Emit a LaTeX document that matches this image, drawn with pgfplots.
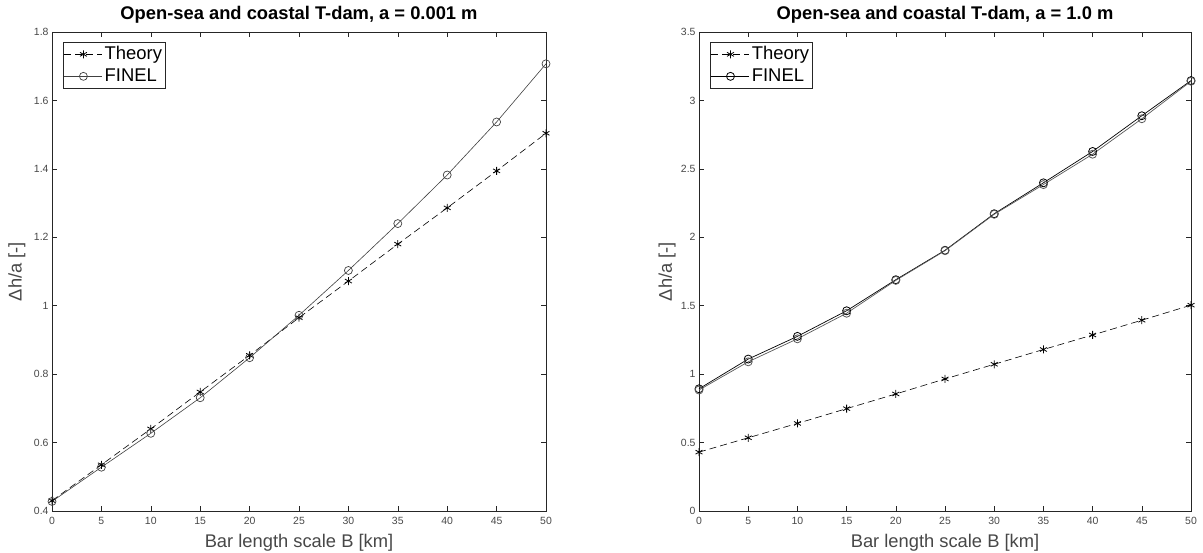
\documentclass[border=0pt]{standalone}
\usepackage{fontspec}
\setmainfont{Liberation Sans}
\usepackage{pgfplots}
\pgfplotsset{compat=1.18}
\definecolor{axc}{rgb}{0.15,0.15,0.15}
\definecolor{tkc}{rgb}{0.28,0.28,0.28}
\pgfplotsset{mstyle/.style={
  scale only axis, height=479bp,
  xmin=0, xmax=50, xtick={0,5,...,50},
  tick align=inside, major tick length=5bp,
  axis line style={axc, line width=0.6bp},
  every tick/.style={axc, line width=0.6bp},
  tick label style={font=\fontsize{10.5}{12}\selectfont, text=tkc},
  xticklabel style={yshift=-3bp},
  /pgf/number format/assume math mode=true,
  xlabel={Bar length scale B [km]}, ylabel={Δh/a [-]},
  label style={font=\fontsize{18.4}{21}\selectfont, text=tkc},
  xlabel style={at={(axis description cs:0.5,0)}, anchor=base, yshift=-37bp},
  title style={font=\bfseries\fontsize{18.4}{21}\selectfont, at={(axis description cs:0.5,1)}, anchor=base, yshift=7bp},
  legend cell align=left,
  legend style={font=\fontsize{18.5}{21}\selectfont, draw=axc, line width=0.6bp, inner sep=1bp, row sep=0bp, anchor=north west,
    nodes={inner sep=2bp, text height=14bp, text depth=4bp}},
  legend image code/.code={\draw[mark repeat=2,mark phase=2,#1] plot coordinates {(0bp,0bp) (19bp,0bp) (38bp,0bp)};},
  clip=false,
}}
\begin{document}
\begin{tikzpicture}[x=1bp,y=1bp]
\useasboundingbox (0,0) rectangle (1203,553);
\begin{axis}[mstyle, at={(52bp,42bp)}, anchor=south west, width=494bp,
  ymin=0.4, ymax=1.8, ytick={0.4,0.6,...,1.8},
  ylabel style={at={(axis description cs:-0.0709,0.5)}, anchor=center},
  title={Open-sea and coastal T-dam, a = 0.001 m},
  legend style={at={(0.0219,0.979)}}]
\addplot[black, dashed, dash pattern=on 7bp off 4bp, line width=0.6bp, mark=asterisk, mark size=4bp, mark options={solid, line width=0.8bp}]
 coordinates {(0,0.430)(5,0.535)(10,0.640)(15,0.748)(20,0.855)(25,0.965)(30,1.072)(35,1.180)(40,1.286)(45,1.394)(50,1.504)};
\addlegendentry{Theory}
\addplot[black!75, line width=0.6bp, mark=o, mark size=4bp, mark options={solid, line width=0.7bp}]
 coordinates {(0,0.428)(5,0.528)(10,0.627)(15,0.731)(20,0.848)(25,0.972)(30,1.103)(35,1.240)(40,1.382)(45,1.537)(50,1.707)};
\addlegendentry{FINEL}
\end{axis}
\begin{axis}[mstyle, at={(699bp,42bp)}, anchor=south west, width=492bp,
  ymin=0, ymax=3.5, ytick={0,0.5,...,3.5},
  ylabel style={at={(axis description cs:-0.065,0.5)}, anchor=center},
  title={Open-sea and coastal T-dam, a = 1.0 m},
  legend style={at={(0.0220,0.979)}}]
\addplot[black, dashed, dash pattern=on 7bp off 4bp, line width=0.6bp, mark=asterisk, mark size=4bp, mark options={solid, line width=0.8bp}]
 coordinates {(0,0.430)(5,0.535)(10,0.640)(15,0.748)(20,0.855)(25,0.965)(30,1.072)(35,1.180)(40,1.286)(45,1.394)(50,1.504)};
\addlegendentry{Theory}
\addplot[black, line width=0.7bp, mark=o, mark size=4bp, mark options={solid, line width=0.8bp}]
 coordinates {(0,0.893)(5,1.110)(10,1.276)(15,1.463)(20,1.690)(25,1.905)(30,2.172)(35,2.398)(40,2.627)(45,2.888)(50,3.145)};
\addlegendentry{FINEL}
\addplot[black!65, line width=0.7bp, mark=o, mark size=4bp, mark options={solid, line width=0.8bp}, forget plot]
 coordinates {(0,0.884)(5,1.090)(10,1.258)(15,1.445)(20,1.685)(25,1.902)(30,2.168)(35,2.385)(40,2.607)(45,2.866)(50,3.140)};
\end{axis}
\end{tikzpicture}
\end{document}
